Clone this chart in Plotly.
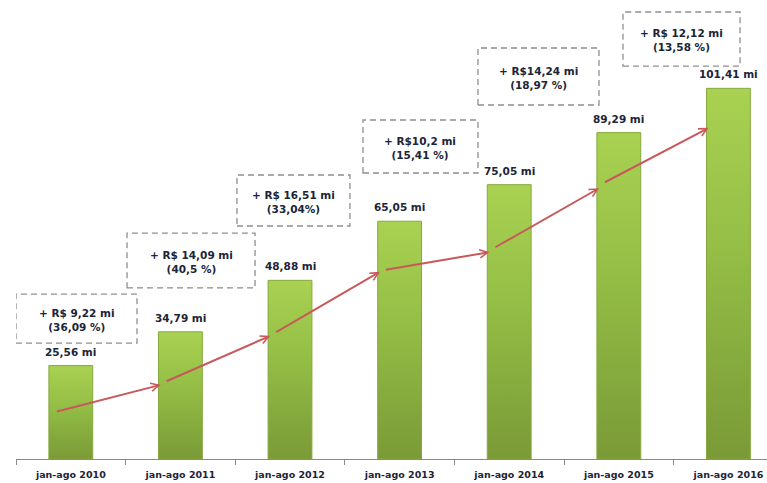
import plotly.graph_objects as go

# Revenue for January-August of each year (R$ millions)
periods = ["jan-ago 2010", "jan-ago 2011", "jan-ago 2012", "jan-ago 2013",
           "jan-ago 2014", "jan-ago 2015", "jan-ago 2016"]
revenue = [25.56, 34.79, 48.88, 65.05, 75.05, 89.29, 101.41]

# Year-over-year growth callouts
growth_abs = ["+ R$ 9,22 mi", "+ R$ 14,09 mi", "+ R$ 16,51 mi",
              "+ R$10,2 mi", "+ R$14,24 mi", "+ R$ 12,12 mi"]
growth_pct = ["(36,09 %)", "(40,5 %)", "(33,04%)",
              "(15,41 %)", "(18,97 %)", "(13,58 %)"]

# Trend arrows: level where each arrow leaves a bar and where it reaches the next
trend_from = [12.9, 21.1, 34.5, 51.7, 57.7, 75.5]
trend_to = [20.3, 33.7, 51.2, 56.6, 74.1, 90.6]

# Callout box placement (x0, x1, y0, y1) in axis units
box_pos = [(-0.5, 0.604, 31.7, 45.1), (0.513, 1.681, 46.8, 61.8),
           (1.516, 2.547, 63.75, 77.7), (2.666, 3.715, 78.25, 92.75),
           (3.715, 4.819, 96.85, 112.45), (5.038, 6.106, 107.5, 122.3)]

FONT = "DejaVu Sans"
TEXT_DARK = "#1c2438"
HALF_W = 0.2

fig = go.Figure()

# Bars drawn as filled polygons so each gets a vertical green gradient
for i, v in enumerate(revenue):
    xs = [i - HALF_W, i - HALF_W, i + HALF_W, i + HALF_W, i - HALF_W]
    ys = [0, v, v, 0, 0]
    fig.add_trace(go.Scatter(
        x=xs, y=ys, mode="lines", fill="toself",
        line=dict(color="#86a83e", width=1),
        fillgradient=dict(type="vertical",
                          colorscale=[[0, "#7a9a37"], [0.55, "#93bd45"], [1, "#a9d252"]]),
        hoverinfo="skip", showlegend=False,
    ))

# Value labels above each bar
for i, v in enumerate(revenue):
    fig.add_annotation(
        x=i, y=v, text="<b>" + f"{v:.2f}".replace(".", ",") + " mi</b>",
        showarrow=False, yanchor="bottom", yshift=6,
        font=dict(family=FONT, size=10.5, color=TEXT_DARK),
    )

# Red trend arrows between consecutive bars
for i in range(len(revenue) - 1):
    fig.add_annotation(
        x=i + 1 - HALF_W + 0.02, y=trend_to[i],
        ax=i - HALF_W + 0.06, ay=trend_from[i],
        xref="x", yref="y", axref="x", ayref="y",
        text="", showarrow=True, arrowhead=5, arrowsize=0.8,
        arrowwidth=2, arrowcolor="#c8595a",
    )

# Dashed callout boxes with growth figures
for (x0, x1, y0, y1), a, p in zip(box_pos, growth_abs, growth_pct):
    fig.add_shape(type="rect", x0=x0, x1=x1, y0=y0, y1=y1,
                  xref="x", yref="y",
                  line=dict(color="#8f8f8f", width=1.3, dash="6px,4px"),
                  fillcolor="rgba(0,0,0,0)")
    fig.add_annotation(
        x=(x0 + x1) / 2, y=(y0 + y1) / 2 - 0.3,
        text=f"<b>{a}</b><br><b>{p}</b>",
        showarrow=False, align="center",
        font=dict(family=FONT, size=10.5, color=TEXT_DARK),
    )

fig.update_layout(
    width=767, height=483,
    margin=dict(l=16, r=0, t=0, b=24),
    paper_bgcolor="white", plot_bgcolor="white",
    showlegend=False,
    xaxis=dict(
        range=[-0.5, 6.352],
        tickmode="array", tickvals=list(range(len(periods))),
        ticktext=[f"<b>{p}</b>" for p in periods],
        ticks="", showgrid=False, zeroline=False,
        showline=True, linecolor="#8a8a8a", linewidth=1,
        tickfont=dict(family=FONT, size=9.5, color=TEXT_DARK),
        ticklabelstandoff=7,
        minor=dict(tick0=-0.5, dtick=1, ticks="outside", ticklen=5,
                   tickcolor="#8a8a8a", tickwidth=1, showgrid=False),
        fixedrange=True,
    ),
    yaxis=dict(range=[0, 125.58], visible=False, fixedrange=True),
)

fig.write_html("out.html")
